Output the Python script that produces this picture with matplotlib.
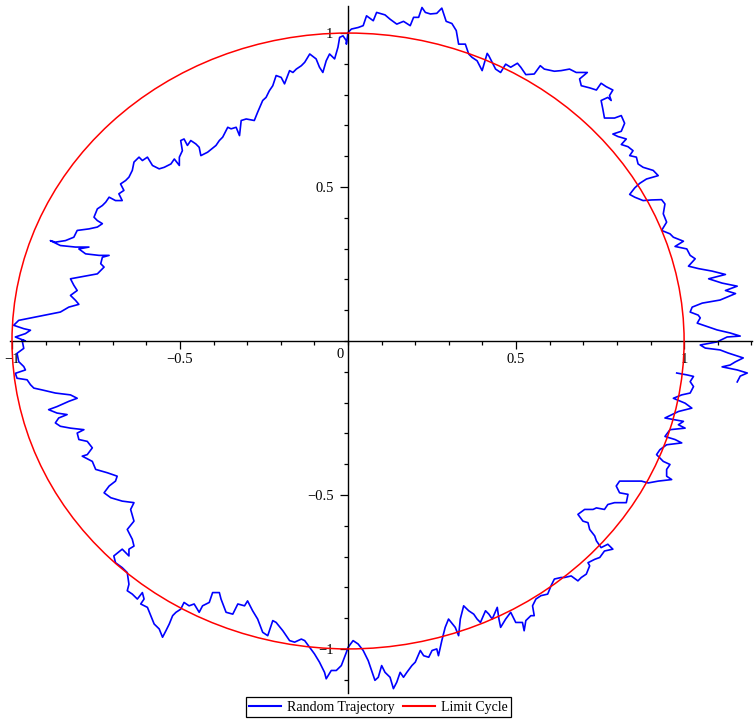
import numpy as np
import matplotlib.pyplot as plt
from matplotlib.patches import Circle
from matplotlib.lines import Line2D
from matplotlib.ticker import MultipleLocator

plt.rcParams['font.family'] = ['Liberation Serif', 'DejaVu Serif']

# random trajectory (anticlockwise)
rightLow = np.array([
    [1.158, -0.133], [1.167, -0.114], [1.188, -0.104], [1.158, -0.094], [1.113, -0.084],
    [1.137, -0.078], [1.152, -0.068], [1.176, -0.055], [1.131, -0.039], [1.107, -0.029],
    [1.063, -0.023], [1.048, -0.013], [1.098, -0.003], [1.128, 0.013], [1.167, 0.016],
    [1.137, 0.026], [1.098, 0.036], [1.063, 0.049], [1.039, 0.058], [1.048, 0.075],
    [1.042, 0.084], [1.018, 0.094], [1.024, 0.110], [1.054, 0.123], [1.107, 0.133]])

rightHigh = np.array([
    [1.153, 0.154], [1.123, 0.164], [1.158, 0.178], [1.113, 0.188], [1.073, 0.202],
    [1.123, 0.216], [1.083, 0.227], [1.043, 0.235], [1.013, 0.243], [1.033, 0.267],
    [1.018, 0.278], [1.008, 0.299], [0.973, 0.307], [0.998, 0.324], [0.968, 0.337],
    [0.958, 0.348], [0.933, 0.359], [0.948, 0.386], [0.938, 0.413], [0.943, 0.445],
    [0.933, 0.459], [0.903, 0.458], [0.878, 0.456], [0.853, 0.467], [0.838, 0.476],
    [0.853, 0.497], [0.868, 0.512], [0.888, 0.526], [0.923, 0.537], [0.908, 0.554],
    [0.878, 0.564], [0.863, 0.575], [0.858, 0.597], [0.838, 0.602], [0.848, 0.618],
    [0.833, 0.631], [0.813, 0.638], [0.828, 0.656], [0.803, 0.664], [0.788, 0.672],
    [0.813, 0.681], [0.823, 0.707], [0.813, 0.732], [0.793, 0.724], [0.763, 0.724],
    [0.758, 0.754], [0.753, 0.781], [0.773, 0.791], [0.783, 0.781], [0.778, 0.797],
    [0.788, 0.815], [0.768, 0.826], [0.753, 0.837], [0.739, 0.815], [0.719, 0.822],
    [0.694, 0.829], [0.689, 0.851], [0.712, 0.872], [0.679, 0.872], [0.659, 0.883],
    [0.634, 0.878], [0.614, 0.876], [0.584, 0.883], [0.572, 0.894], [0.554, 0.867],
    [0.529, 0.865], [0.514, 0.889], [0.504, 0.902], [0.484, 0.889], [0.469, 0.899],
    [0.454, 0.872], [0.439, 0.883], [0.419, 0.926], [0.414, 0.934], [0.399, 0.878],
    [0.384, 0.910], [0.369, 0.921], [0.359, 0.932], [0.349, 0.964], [0.329, 0.964],
    [0.322, 1.008], [0.309, 1.031], [0.292, 1.038], [0.279, 1.081], [0.264, 1.064],
    [0.245, 1.062], [0.230, 1.067], [0.220, 1.083], [0.210, 1.051], [0.195, 1.051],
    [0.185, 1.024], [0.165, 1.038], [0.145, 1.029], [0.125, 1.045], [0.110, 1.059],
    [0.085, 1.067], [0.075, 1.040], [0.055, 1.056], [0.045, 1.024], [0.030, 1.018],
    [0.010, 1.013], [0.000, 1.002], [-0.005, 0.964]])

topLeft = np.array([
    [-0.005, 0.975], [-0.015, 0.991], [-0.025, 0.986], [-0.030, 0.954], [-0.040, 0.916],
    [-0.055, 0.932], [-0.065, 0.910], [-0.075, 0.872], [-0.085, 0.889], [-0.095, 0.916],
    [-0.114, 0.932], [-0.129, 0.905], [-0.139, 0.894], [-0.154, 0.883], [-0.164, 0.872],
    [-0.174, 0.878], [-0.189, 0.835], [-0.199, 0.856], [-0.214, 0.862], [-0.224, 0.829],
    [-0.234, 0.813], [-0.244, 0.791], [-0.254, 0.781], [-0.269, 0.743], [-0.279, 0.716],
    [-0.303, 0.721], [-0.318, 0.716], [-0.323, 0.667], [-0.333, 0.694], [-0.348, 0.689],
    [-0.358, 0.694], [-0.373, 0.662], [-0.383, 0.651], [-0.393, 0.635], [-0.418, 0.613],
    [-0.438, 0.602], [-0.443, 0.629], [-0.453, 0.640], [-0.468, 0.651], [-0.478, 0.635],
    [-0.488, 0.656], [-0.498, 0.651], [-0.493, 0.618], [-0.502, 0.597], [-0.502, 0.570],
    [-0.517, 0.591], [-0.527, 0.575], [-0.547, 0.564], [-0.562, 0.559], [-0.582, 0.570],
    [-0.597, 0.597], [-0.612, 0.586], [-0.622, 0.597], [-0.637, 0.581], [-0.642, 0.554],
    [-0.652, 0.532], [-0.662, 0.521], [-0.677, 0.510], [-0.667, 0.489], [-0.682, 0.478],
    [-0.672, 0.456], [-0.692, 0.456], [-0.711, 0.467], [-0.721, 0.451], [-0.731, 0.440],
    [-0.746, 0.429], [-0.756, 0.402], [-0.746, 0.391], [-0.731, 0.381], [-0.746, 0.370],
    [-0.771, 0.364], [-0.806, 0.359], [-0.816, 0.337], [-0.841, 0.326], [-0.871, 0.321],
    [-0.886, 0.326], [-0.856, 0.310], [-0.811, 0.305], [-0.771, 0.305], [-0.801, 0.299],
    [-0.781, 0.283], [-0.741, 0.278], [-0.711, 0.278], [-0.731, 0.272], [-0.736, 0.251],
    [-0.726, 0.240], [-0.746, 0.218], [-0.786, 0.210], [-0.826, 0.202], [-0.816, 0.181],
    [-0.806, 0.164], [-0.826, 0.148], [-0.811, 0.132], [-0.801, 0.119], [-0.831, 0.110],
    [-0.856, 0.094], [-0.930, 0.078], [-0.980, 0.067], [-0.995, 0.051], [-0.965, 0.040],
    [-0.945, 0.035], [-0.960, 0.024], [-0.990, 0.013], [-0.960, 0.000]])

bottomLeft = np.array([
    [-0.970, 0.003], [-0.965, -0.024], [-0.985, -0.040], [-0.980, -0.067], [-0.965, -0.083],
    [-0.960, -0.094], [-0.990, -0.105], [-0.985, -0.121], [-0.955, -0.126], [-0.945, -0.142],
    [-0.935, -0.153], [-0.910, -0.159], [-0.871, -0.169], [-0.826, -0.175], [-0.806, -0.186],
    [-0.831, -0.196], [-0.866, -0.213], [-0.891, -0.223], [-0.866, -0.234], [-0.836, -0.239],
    [-0.861, -0.250], [-0.871, -0.266], [-0.856, -0.277], [-0.826, -0.283], [-0.786, -0.288],
    [-0.806, -0.299], [-0.801, -0.320], [-0.776, -0.326], [-0.761, -0.347], [-0.776, -0.369],
    [-0.791, -0.374], [-0.761, -0.391], [-0.751, -0.417], [-0.716, -0.428], [-0.687, -0.439],
    [-0.692, -0.455], [-0.711, -0.471], [-0.726, -0.493], [-0.706, -0.509], [-0.672, -0.520],
    [-0.637, -0.525], [-0.647, -0.547], [-0.637, -0.585], [-0.657, -0.612], [-0.642, -0.644],
    [-0.637, -0.666], [-0.652, -0.676], [-0.652, -0.698], [-0.672, -0.676], [-0.697, -0.698],
    [-0.692, -0.720], [-0.672, -0.736], [-0.657, -0.752], [-0.652, -0.790], [-0.657, -0.811],
    [-0.642, -0.822], [-0.627, -0.838], [-0.612, -0.817], [-0.607, -0.838], [-0.617, -0.854],
    [-0.597, -0.865], [-0.587, -0.892], [-0.577, -0.919], [-0.562, -0.935], [-0.552, -0.962],
    [-0.542, -0.941], [-0.532, -0.919], [-0.522, -0.892], [-0.512, -0.881], [-0.498, -0.871],
    [-0.488, -0.849], [-0.473, -0.860], [-0.458, -0.854], [-0.443, -0.881], [-0.433, -0.860],
    [-0.413, -0.849], [-0.403, -0.817], [-0.383, -0.817], [-0.378, -0.838], [-0.363, -0.881],
    [-0.343, -0.887], [-0.328, -0.854], [-0.308, -0.860], [-0.299, -0.844], [-0.284, -0.876],
    [-0.269, -0.903], [-0.254, -0.946], [-0.239, -0.957], [-0.224, -0.908], [-0.214, -0.914],
    [-0.194, -0.941], [-0.174, -0.973], [-0.159, -0.978], [-0.139, -0.968], [-0.129, -0.973],
    [-0.114, -0.995], [-0.100, -1.016], [-0.085, -1.043], [-0.070, -1.076], [-0.065, -1.097],
    [-0.050, -1.070], [-0.035, -1.070], [-0.020, -1.054], [-0.005, -1.011], [0.000, -0.995],
    [0.015, -0.973], [0.030, -0.984]])

bottomRight = np.array([
    [0.045, -1.005], [0.060, -1.038], [0.070, -1.070], [0.080, -1.102], [0.090, -1.092],
    [0.100, -1.054], [0.110, -1.076], [0.125, -1.092], [0.135, -1.129], [0.145, -1.108],
    [0.155, -1.076], [0.165, -1.092], [0.175, -1.076], [0.190, -1.054], [0.200, -1.043],
    [0.215, -1.005], [0.225, -1.022], [0.240, -1.027], [0.250, -1.005], [0.264, -1.000],
    [0.269, -1.022], [0.279, -0.973], [0.289, -0.930], [0.299, -0.903], [0.319, -0.930],
    [0.329, -0.957], [0.334, -0.903], [0.344, -0.860], [0.359, -0.876], [0.374, -0.887],
    [0.384, -0.903], [0.394, -0.914], [0.409, -0.876], [0.419, -0.887], [0.429, -0.903],
    [0.444, -0.865], [0.449, -0.903], [0.454, -0.930], [0.469, -0.903], [0.484, -0.881],
    [0.499, -0.914], [0.519, -0.914], [0.524, -0.941], [0.529, -0.908], [0.544, -0.892],
    [0.554, -0.892], [0.549, -0.860], [0.559, -0.838], [0.574, -0.827], [0.594, -0.822],
    [0.604, -0.795], [0.614, -0.773], [0.634, -0.768], [0.644, -0.768], [0.664, -0.763],
    [0.684, -0.779], [0.694, -0.768], [0.709, -0.757], [0.719, -0.730], [0.714, -0.720],
    [0.734, -0.709], [0.749, -0.703], [0.763, -0.682], [0.788, -0.676], [0.773, -0.660],
    [0.753, -0.671], [0.739, -0.649], [0.734, -0.633], [0.719, -0.612], [0.714, -0.590],
    [0.699, -0.585], [0.684, -0.563], [0.704, -0.547], [0.729, -0.547], [0.739, -0.542],
    [0.763, -0.547], [0.773, -0.531], [0.793, -0.525], [0.828, -0.525], [0.833, -0.498],
    [0.808, -0.493], [0.798, -0.471], [0.808, -0.455], [0.828, -0.455], [0.848, -0.455],
    [0.873, -0.455], [0.893, -0.461], [0.923, -0.455], [0.963, -0.450], [0.948, -0.439],
    [0.948, -0.417], [0.958, -0.401], [0.938, -0.391], [0.918, -0.369], [0.928, -0.353],
    [0.948, -0.337], [0.993, -0.331], [0.973, -0.320], [0.943, -0.310], [0.958, -0.288],
    [1.003, -0.283], [0.983, -0.272], [0.998, -0.261], [0.973, -0.256], [0.943, -0.250],
    [0.983, -0.229], [1.023, -0.218], [1.003, -0.202], [0.968, -0.186], [0.993, -0.175],
    [1.018, -0.169], [1.028, -0.148], [1.018, -0.132], [1.028, -0.115], [1.008, -0.110],
    [0.978, -0.104]])

# limit cycle
cycleCenter = (0.0, 0.0)
cycleRadius = 1.0

xTicks = [-1, -0.5, 0.5, 1]
xTickLabels = ['\u22121', '\u22120.5', '0.5', '1']
yTicks = [-1, -0.5, 0.5, 1]
yTickLabels = ['\u22121', '\u22120.5', '0.5', '1']

traj = np.vstack([rightLow, rightHigh, topLeft, bottomLeft, bottomRight])

fig = plt.figure(figsize=(7.56, 7.26), dpi=100)
ax = fig.add_axes([0.0132, 0.0455, 0.9815, 0.9463])

ax.plot(traj[:, 0], traj[:, 1], color='#0000ff', lw=1.2, clip_on=False, zorder=2)
ax.add_patch(Circle(cycleCenter, cycleRadius, fill=False, edgecolor='#ff0000', lw=1.1, zorder=3))

ax.set_xlim(-1.006, 1.202)
ax.set_ylim(-1.143, 1.088)

ax.spines['top'].set_visible(False)
ax.spines['right'].set_visible(False)
ax.spines['left'].set_position(('data', 0))
ax.spines['bottom'].set_position(('data', 0))
ax.spines['left'].set_linewidth(1.0)
ax.spines['bottom'].set_linewidth(1.0)

ax.set_xticks(xTicks)
ax.set_xticklabels(xTickLabels)
ax.set_yticks(yTicks)
ax.set_yticklabels(yTickLabels)
ax.xaxis.set_minor_locator(MultipleLocator(0.1))
ax.yaxis.set_minor_locator(MultipleLocator(0.1))
ax.tick_params(axis='both', which='major', direction='out', length=5.5, width=0.9, labelsize=10.5)
ax.tick_params(axis='both', which='minor', direction='out', length=3, width=0.9)
ax.tick_params(axis='x', which='major', pad=3)
ax.tick_params(axis='y', which='major', pad=5)
ax.text(-0.012, -0.045, '0', ha='right', va='center', fontsize=10.5)

handles = [Line2D([], [], color='#0000ff', lw=1.5), Line2D([], [], color='#ff0000', lw=1.5)]
leg = fig.legend(handles, ['Random Trajectory', 'Limit Cycle'], loc='upper center',
                 bbox_to_anchor=(0.5007, 0.0399), ncol=2, fontsize=10, frameon=True,
                 fancybox=False, edgecolor='black', framealpha=1, borderpad=0.25,
                 handlelength=2.3, handletextpad=0.45, columnspacing=0.55, borderaxespad=0)
leg.get_frame().set_linewidth(0.9)

plt.savefig('out.png', dpi=100)
